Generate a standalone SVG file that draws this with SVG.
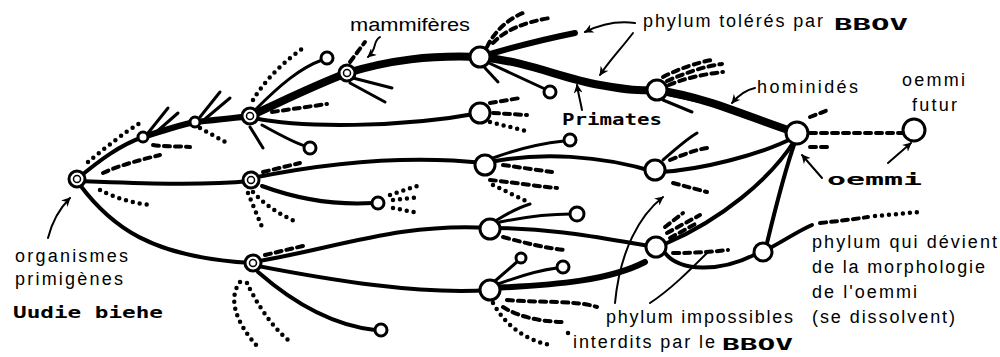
<svg xmlns="http://www.w3.org/2000/svg" width="1000" height="357" viewBox="0 0 1000 357">
<defs>
<style>
.c path{fill:none;stroke:#000;stroke-linecap:round;stroke-linejoin:round}
.w8{stroke-width:8}
.w6{stroke-width:6}
.w4{stroke-width:4}
.w3{stroke-width:3}
.da{stroke-width:4;stroke-dasharray:6 5}
.do{stroke-width:4.5;stroke-dasharray:0 7}
.ld{stroke-width:2;marker-end:url(#ah)}
.ln{stroke-width:2}
.n circle{fill:#fff;stroke:#000;stroke-width:3}
.n .in{stroke-width:1.5}
.t{font-family:"Liberation Sans",Arial,sans-serif;font-size:18px;fill:#000}
.s{font-family:"DejaVu Sans Mono",monospace;font-weight:bold;font-size:16px;fill:#000}
</style>
<marker id="ah" viewBox="0 0 10 10" refX="9" refY="5" markerWidth="9" markerHeight="9" markerUnits="userSpaceOnUse" orient="auto">
<path d="M0,0 L10,5 L0,10 L3,5 Z" fill="#000"/>
</marker>
</defs>
<rect width="1000" height="357" fill="#fff"/>
<g id="connectors" class="c">
<!-- main lineage -->
<path class="w4" d="M77,179 C100,160 120,145 143,137"/>
<path class="w6" d="M143,137 C165,130 180,125 195,122"/>
<path class="w6" d="M195,122 C215,120 235,118 250,116"/>
<path class="w8" d="M250,116 C285,100 315,85 347,73"/>
<path class="w8" d="M347,73 C390,60 430,55 480,57"/>
<path class="w8" d="M480,57 C530,62 560,78 600,85 S640,90 657,90"/>
<path class="w8" d="M657,90 C710,98 750,118 797,133"/>
<path class="w6" d="M480,57 C520,45 550,38 575,33"/>
<!-- secondary -->
<path class="w4" d="M77,181 C130,183 200,186 250,181"/>
<path class="w4" d="M80,185 C110,225 150,258 253,263"/>
<path class="w4" d="M252,178 C330,162 410,155 485,163"/>
<path class="w4" d="M254,118 C300,128 400,128 480,113"/>
<path class="w4" d="M262,186 C300,200 340,205 373,203"/>
<path class="w4" d="M253,262 C330,250 400,222 490,228"/>
<path class="w4" d="M253,265 C330,280 420,295 490,290"/>
<path class="w4" d="M258,272 C290,300 330,325 375,330"/>
<path class="w4" d="M490,162 C540,152 600,155 655,172"/>
<path class="w4" d="M490,228 C560,228 610,240 657,247"/>
<path class="w6" d="M490,288 C560,285 610,280 645,262"/>
<path class="w4" d="M665,253 C680,272 720,272 754,255"/>
<path class="w4" d="M660,172 C700,170 760,155 795,137"/>
<path class="w4" d="M667,243 C720,220 770,180 795,140"/>
<path class="w4" d="M767,243 C775,210 785,170 795,142"/>
<path class="w4" d="M770,248 C785,240 800,230 812,225"/>
<!-- short solid branches -->
<path class="w3" d="M148,133 L168,108"/>
<path class="w3" d="M154,134 L178,113"/>
<path class="w3" d="M200,117 L220,92"/>
<path class="w3" d="M205,119 L230,98"/>
<path class="w3" d="M255,110 C280,85 300,68 322,60"/>
<path class="w3" d="M262,125 C280,135 295,143 305,146"/>
<path class="w3" d="M250,127 L263,148"/>
<path class="w3" d="M353,78 L392,88"/>
<path class="w3" d="M350,83 L385,102"/>
<path class="w3" d="M489,63 L545,89"/>
<path class="w3" d="M485,68 L498,82"/>
<path class="w3" d="M493,158 C520,148 545,143 564,141"/>
<path class="w3" d="M665,94 L697,101"/>
<path class="w3" d="M663,100 L692,112"/>
<path class="w3" d="M663,160 C675,150 685,140 697,133"/>
<path class="w3" d="M500,222 C530,216 555,214 571,214"/>
<path class="w3" d="M497,220 C510,212 520,207 530,204"/>
<path class="w3" d="M495,281 L518,261"/>
<path class="w3" d="M498,284 C520,276 540,270 557,268"/>
<!-- dashed / dotted -->
<path class="da" d="M103,173 C120,165 140,160 160,155"/>
<path class="do" d="M88,162 C105,148 125,132 140,123"/>
<path class="do" d="M100,190 C115,198 135,204 152,205"/>
<path class="da" d="M153,145 C165,147 178,146 190,147"/>
<path class="do" d="M200,128 L227,143"/>
<path class="do" d="M253,100 C265,80 285,60 305,47"/>
<path class="da" d="M272,112 L327,104"/>
<path class="da" d="M350,62 L365,42"/>
<path class="da" d="M487,47 C495,30 510,18 523,13"/>
<path class="da" d="M493,43 C505,30 525,22 550,18"/>
<path class="da" d="M490,103 L520,98"/>
<path class="da" d="M493,113 L527,115"/>
<path class="do" d="M490,122 L530,132"/>
<path class="da" d="M503,165 L552,172"/>
<path class="da" d="M490,180 C510,182 535,186 557,188"/>
<path class="do" d="M493,185 L530,203"/>
<path class="da" d="M263,172 L300,163"/>
<path class="do" d="M248,193 L262,227"/>
<path class="do" d="M253,192 C265,205 280,215 297,222"/>
<path class="do" d="M390,195 L420,185"/>
<path class="do" d="M393,200 L420,197"/>
<path class="do" d="M393,208 L418,213"/>
<path class="da" d="M265,255 L307,245"/>
<path class="do" d="M240,282 C228,298 235,322 258,347"/>
<path class="do" d="M247,283 C255,300 270,325 288,340"/>
<path class="da" d="M503,237 C525,243 545,248 565,250"/>
<path class="da" d="M507,300 C540,303 575,300 597,307"/>
<path class="da" d="M503,307 C520,318 545,322 565,322"/>
<path class="do" d="M493,303 C505,325 525,340 550,345"/>
<path class="do" d="M568,333 L568.5,333"/>
<path class="da" d="M663,77 C680,68 700,62 712,60"/>
<path class="da" d="M667,81 C685,73 705,66 722,64"/>
<path class="da" d="M669,85 C685,78 705,74 723,72"/>
<path class="da" d="M670,160 C685,154 695,150 707,148"/>
<path class="da" d="M673,183 L707,192"/>
<path class="da" d="M665,227 L683,213"/>
<path class="da" d="M667,233 L700,215"/>
<path class="da" d="M670,238 L697,223"/>
<path class="da" d="M673,253 C695,253 710,252 728,250"/>
<path class="da" d="M810,133 L903,133"/>
<path class="da" d="M810,147 L830,147"/>
<path class="da" d="M810,117 L828,110"/>
<path class="da" d="M820,223 C840,221 855,219 868,217"/>
<path class="do" d="M875,216 C890,215 905,213 920,212"/>
<!-- leaders -->
<path class="ld" d="M48,238 C52,222 58,210 70,198"/>
<path class="ld" d="M380,37 C372,42 378,48 368,57"/>
<path class="ld" d="M635,23 C620,21 605,22 585,32"/>
<path class="ld" d="M633,33 C620,50 610,60 600,75"/>
<path class="ld" d="M582,110 C580,100 578,92 577,85"/>
<path class="ld" d="M755,88 C745,90 738,96 732,103"/>
<path class="ld" d="M822,178 L802,155"/>
<path class="ld" d="M888,163 L911,143"/>
<path class="ld" d="M615,303 C620,250 640,215 663,197"/>
<path class="ln" d="M650,303 C670,290 690,270 708,252"/>
</g>
<g id="nodes" class="n">
<g id="root"><circle cx="77" cy="179" r="8"/><circle class="in" cx="77" cy="179" r="3.5"/></g>
<g id="n143"><circle cx="143" cy="137" r="5"/></g>
<g id="n195"><circle cx="195" cy="122" r="5"/></g>
<g id="n250a"><circle cx="250" cy="116" r="8"/><circle class="in" cx="250" cy="116" r="3.5"/></g>
<g id="mammiferes"><circle cx="347" cy="73" r="8"/><circle class="in" cx="347" cy="73" r="3.5"/></g>
<g id="n480a"><circle cx="480" cy="57" r="10"/></g>
<g id="primates"><circle cx="657" cy="90" r="10"/></g>
<g id="oemmi"><circle cx="797" cy="133" r="11"/></g>
<g id="oemmi-futur"><circle cx="914" cy="130" r="11"/></g>
<g id="n480b"><circle cx="480" cy="113" r="10"/></g>
<g id="n485"><circle cx="485" cy="165" r="10"/></g>
<g id="n655"><circle cx="655" cy="170" r="10"/></g>
<g id="n250b"><circle cx="251" cy="180" r="8"/><circle class="in" cx="251" cy="180" r="3.5"/></g>
<g id="n379"><circle cx="378" cy="203" r="6"/></g>
<g id="n253"><circle cx="253" cy="263" r="8"/><circle class="in" cx="253" cy="263" r="3.5"/></g>
<g id="n490a"><circle cx="490" cy="229" r="10"/></g>
<g id="n490b"><circle cx="490" cy="290" r="10"/></g>
<g id="n657"><circle cx="656" cy="247" r="10"/></g>
<g id="n763"><circle cx="763" cy="252" r="9"/></g>
<g id="t327"><circle cx="327" cy="58" r="6"/></g>
<g id="t310"><circle cx="310" cy="148" r="6"/></g>
<g id="t550"><circle cx="550" cy="92" r="6"/></g>
<g id="t570"><circle cx="570" cy="140" r="6"/></g>
<g id="t577"><circle cx="577" cy="214" r="7"/></g>
<g id="t521"><circle cx="521" cy="258" r="5"/></g>
<g id="t563"><circle cx="563" cy="267" r="6"/></g>
<g id="t381"><circle cx="381" cy="330" r="6"/></g>
</g>
<g id="labels">
<text class="t" x="350" y="31" textLength="120" lengthAdjust="spacingAndGlyphs">mammifères</text>
<text class="t" x="643" y="27" textLength="180" lengthAdjust="spacing">phylum tolérés par</text>
<text class="s" x="834" y="30" textLength="74" lengthAdjust="spacingAndGlyphs">BBOV</text>
<text class="t" x="757" y="93" textLength="101" lengthAdjust="spacing">hominidés</text>
<text class="t" x="902" y="86" textLength="63" lengthAdjust="spacing">oemmi</text>
<text class="t" x="912" y="111" textLength="45" lengthAdjust="spacing">futur</text>
<text class="s" x="562" y="125" textLength="100" lengthAdjust="spacingAndGlyphs">Primates</text>
<text class="s" x="827" y="185" textLength="95" lengthAdjust="spacingAndGlyphs">oemmi</text>
<text class="t" x="15" y="262" textLength="113" lengthAdjust="spacing">organismes</text>
<text class="t" x="15" y="285" textLength="108" lengthAdjust="spacing">primigènes</text>
<text class="s" x="13" y="318" textLength="150" lengthAdjust="spacingAndGlyphs">Uudie biehe</text>
<text class="t" x="812" y="248" textLength="185" lengthAdjust="spacing">phylum qui dévient</text>
<text class="t" x="812" y="273" textLength="173" lengthAdjust="spacing">de la morphologie</text>
<text class="t" x="812" y="298" textLength="105" lengthAdjust="spacing">de l'oemmi</text>
<text class="t" x="812" y="323" textLength="143" lengthAdjust="spacing">(se dissolvent)</text>
<text class="t" x="606" y="323" textLength="187" lengthAdjust="spacing">phylum impossibles</text>
<text class="t" x="573" y="348" textLength="142" lengthAdjust="spacing">interdits par le</text>
<text class="s" x="722" y="350" textLength="71" lengthAdjust="spacingAndGlyphs">BBOV</text>
</g>
</svg>
